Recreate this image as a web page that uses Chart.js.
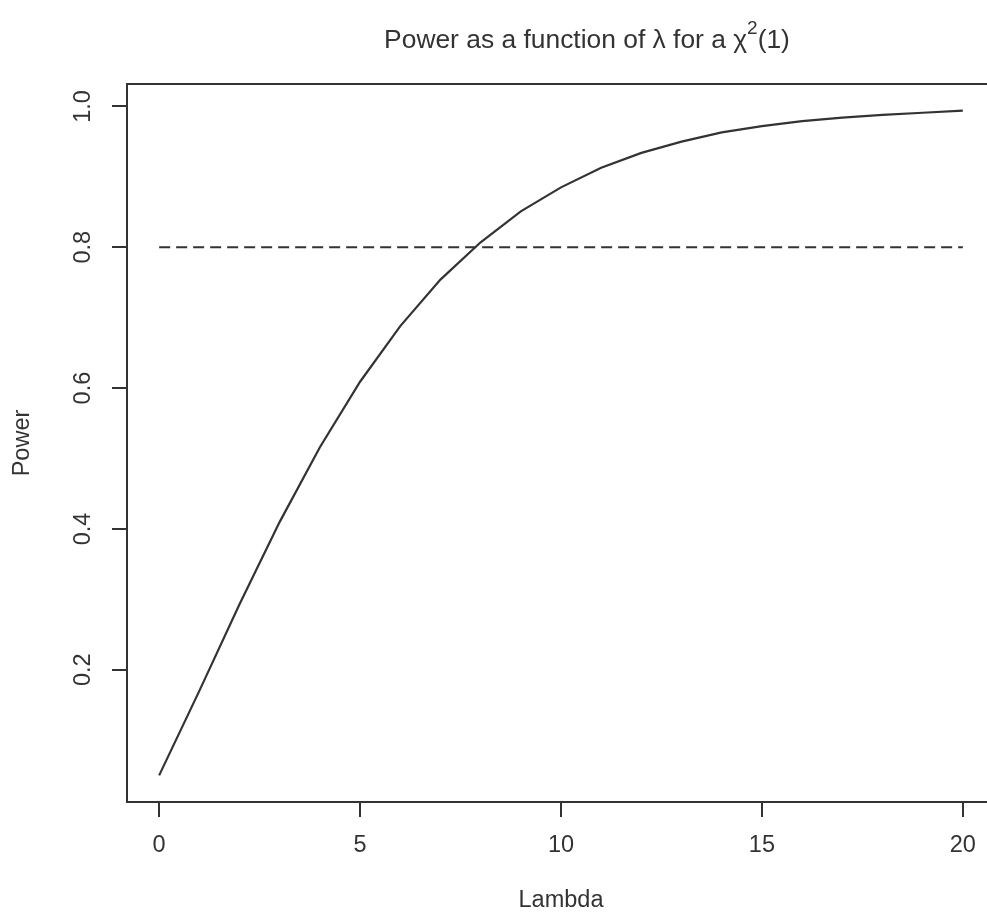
<!DOCTYPE html>
<html>
<head>
<meta charset="utf-8">
<script src="https://cdn.jsdelivr.net/npm/chart.js@4"></script>
<style>
  html, body { margin: 0; padding: 0; background: #fff; overflow: hidden; }
  #wrap { width: 1000px; height: 912px; }
</style>
</head>
<body>
<div id="wrap"><canvas id="powerChart" width="1000" height="912"></canvas></div>
<script>
// Power curve values
const lambdas = [0, 1, 2, 3, 4, 5, 6, 7, 8, 9, 10, 11, 12, 13, 14, 15, 16, 17, 18, 19, 20];
const power = [0.050, 0.170, 0.293, 0.410, 0.516, 0.609, 0.688, 0.754, 0.807, 0.851, 0.885,
               0.913, 0.934, 0.950, 0.963, 0.972, 0.979, 0.984, 0.988, 0.991, 0.994];
// Reference line at 0.8
const refX = [0, 20];
const refY = [0.8, 0.8];
// Tick labels
const xTicks = [0, 5, 10, 15, 20];
const yTicks = [0.2, 0.4, 0.6, 0.8, 1.0];

const ink = '#333';
const fontFamily = '"Liberation Sans", Arial, sans-serif';

function pairs(xs, ys) {
  return xs.map((x, i) => ({ x: x, y: ys[i] }));
}

// R-style box round the plot area and the title with a superscript
const boxAndTitle = {
  id: 'boxAndTitle',
  afterDraw(chart) {
    const ctx = chart.ctx;
    const a = chart.chartArea;
    ctx.save();
    ctx.strokeStyle = ink;
    ctx.lineWidth = 2;
    ctx.strokeRect(a.left, a.top, a.right - a.left, a.bottom - a.top);

    ctx.fillStyle = ink;
    ctx.textBaseline = 'middle';
    ctx.textAlign = 'left';
    const main = 'Power as a function of \u03bb for a \u03c7';
    const sup = '2';
    const tail = '(1)';
    const big = '26.4px ' + fontFamily;
    const small = '19px ' + fontFamily;
    ctx.font = big;
    const w1 = ctx.measureText(main).width;
    const w3 = ctx.measureText(tail).width;
    ctx.font = small;
    const w2 = ctx.measureText(sup).width;
    let x = 587 - (w1 + w2 + w3) / 2;
    const y = 41;
    ctx.font = big;
    ctx.fillText(main, x, y);
    x += w1;
    ctx.font = small;
    ctx.fillText(sup, x, y - 12);
    x += w2;
    ctx.font = big;
    ctx.fillText(tail, x, y);
    ctx.restore();
  }
};

const ctx = document.getElementById('powerChart').getContext('2d');
new Chart(ctx, {
  type: 'scatter',
  data: {
    datasets: [
      {
        label: 'Power',
        data: pairs(lambdas, power),
        showLine: true,
        borderColor: ink,
        borderWidth: 2.2,
        pointRadius: 0,
        tension: 0
      },
      {
        label: '0.8',
        data: pairs(refX, refY),
        showLine: true,
        borderColor: ink,
        borderWidth: 2,
        borderDash: [11, 6],
        pointRadius: 0
      }
    ]
  },
  plugins: [boxAndTitle],
  options: {
    responsive: false,
    animation: false,
    devicePixelRatio: 1,
    layout: { padding: { left: 0, right: 5, top: 84, bottom: 0 } },
    plugins: {
      legend: { display: false },
      tooltip: { enabled: false },
      title: { display: false }
    },
    scales: {
      x: {
        type: 'linear',
        min: -0.8,
        max: 20.8,
        afterBuildTicks: s => { s.ticks = xTicks.map(v => ({ value: v })); },
        afterFit: s => { s.height = 110; },
        border: { display: false },
        grid: { drawOnChartArea: false, drawTicks: true, tickLength: 15, color: ink, lineWidth: 2 },
        ticks: {
          color: ink,
          padding: 14,
          maxRotation: 0,
          font: { family: fontFamily, size: 23.5 },
          callback: v => String(v)
        },
        title: {
          display: true,
          text: 'Lambda',
          color: ink,
          padding: { top: 0, bottom: 0 },
          font: { family: fontFamily, size: 23.5, lineHeight: 1 }
        }
      },
      y: {
        type: 'linear',
        min: 0.0122,
        max: 1.0318,
        afterBuildTicks: s => { s.ticks = yTicks.map(v => ({ value: v })); },
        afterFit: s => { s.width = 127; },
        border: { display: false },
        grid: { drawOnChartArea: false, drawTicks: true, tickLength: 15, color: ink, lineWidth: 2 },
        ticks: {
          color: ink,
          padding: 12,
          minRotation: 90,
          maxRotation: 90,
          crossAlign: 'center',
          font: { family: fontFamily, size: 23.5 },
          callback: v => v.toFixed(1)
        },
        title: {
          display: true,
          text: 'Power',
          color: ink,
          padding: { top: 11, bottom: 0 },
          font: { family: fontFamily, size: 23.5, lineHeight: 1 }
        }
      }
    }
  }
});
</script>
</body>
</html>
